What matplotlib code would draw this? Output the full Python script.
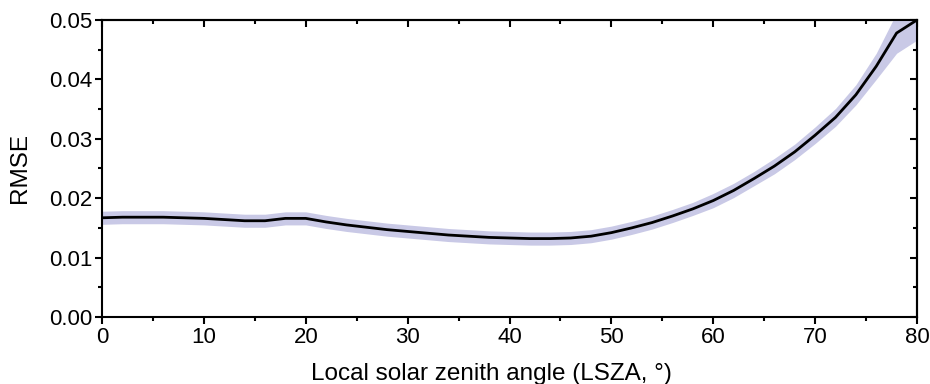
import matplotlib
matplotlib.use("Agg")
import matplotlib.pyplot as plt
from matplotlib.ticker import MultipleLocator

plt.rcParams["font.family"] = ["Liberation Sans", "DejaVu Sans"]

# LSZA (deg) and RMSE
lsza = [0, 2, 4, 6, 8, 10, 12, 14, 16, 18, 20, 22, 24, 26, 28, 30, 32, 34, 36, 38,
        40, 42, 44, 46, 48, 50, 52, 54, 56, 58, 60, 62, 64, 66, 68, 70, 72, 74, 76, 78, 80]
rmse = [0.0167, 0.0168, 0.0168, 0.0168, 0.0167, 0.0166, 0.0164, 0.0162, 0.0162, 0.0166,
        0.0166, 0.0160, 0.0155, 0.0151, 0.0147, 0.0144, 0.0141, 0.0138, 0.0136, 0.0134,
        0.0133, 0.0132, 0.0132, 0.0133, 0.0136, 0.0142, 0.0150, 0.0159, 0.0170, 0.0182,
        0.0196, 0.0213, 0.0233, 0.0254, 0.0278, 0.0306, 0.0336, 0.0374, 0.0422, 0.0478, 0.0500]
band = [0.0011, 0.0011, 0.0011, 0.0011, 0.0011, 0.0011, 0.0011, 0.0011, 0.0011, 0.0011,
        0.0011, 0.0011, 0.0011, 0.0011, 0.0011, 0.0011, 0.0011, 0.0011, 0.0011, 0.0011,
        0.0011, 0.0011, 0.0011, 0.0011, 0.0011, 0.0011, 0.0011, 0.0011, 0.0011, 0.0011,
        0.0012, 0.0012, 0.0012, 0.0013, 0.0013, 0.0014, 0.0015, 0.0017, 0.0022, 0.0034, 0.0034]

lower = [r - b for r, b in zip(rmse, band)]
upper = [r + b for r, b in zip(rmse, band)]

fig = plt.figure(figsize=(9.3, 3.84), dpi=100)
ax = fig.add_axes([0.1097, 0.1745, 0.8763, 0.7735])

ax.fill_between(lsza, lower, upper, color="#c9c9e6", linewidth=0)
ax.plot(lsza, rmse, color="black", linewidth=2.0)

ax.set_xlim(0, 80)
ax.set_ylim(0, 0.05)
ax.xaxis.set_major_locator(MultipleLocator(10))
ax.xaxis.set_minor_locator(MultipleLocator(5))
ax.yaxis.set_major_locator(MultipleLocator(0.01))
ax.yaxis.set_minor_locator(MultipleLocator(0.005))
ax.yaxis.set_major_formatter(plt.FormatStrFormatter("%.2f"))

for s in ax.spines.values():
    s.set_linewidth(1.5)

ax.tick_params(which="both", direction="out", width=1.5, labelsize=16,
               top=False, right=False, pad=2)
ax.tick_params(which="major", length=5)
ax.tick_params(which="minor", length=3)

# inward ticks on top and right, without labels
axt = ax.secondary_xaxis("top")
axt.xaxis.set_major_locator(MultipleLocator(10))
axt.xaxis.set_minor_locator(MultipleLocator(5))
axt.tick_params(which="both", direction="in", width=1.5, labeltop=False)
axt.tick_params(which="major", length=5)
axt.tick_params(which="minor", length=3)
axr = ax.secondary_yaxis("right")
axr.yaxis.set_major_locator(MultipleLocator(0.01))
axr.yaxis.set_minor_locator(MultipleLocator(0.005))
axr.tick_params(which="both", direction="in", width=1.5, labelright=False)
axr.tick_params(which="major", length=5)
axr.tick_params(which="minor", length=3)
for s in list(axt.spines.values()) + list(axr.spines.values()):
    s.set_linewidth(1.5)

ax.set_xlabel("Local solar zenith angle (LSZA, °)", fontsize=17.5)
ax.set_ylabel("RMSE", fontsize=17.5)
ax.xaxis.set_label_coords(0.478, -0.155)
ax.yaxis.set_label_coords(-0.087, 0.5)

fig.savefig("out.png", dpi=100)
